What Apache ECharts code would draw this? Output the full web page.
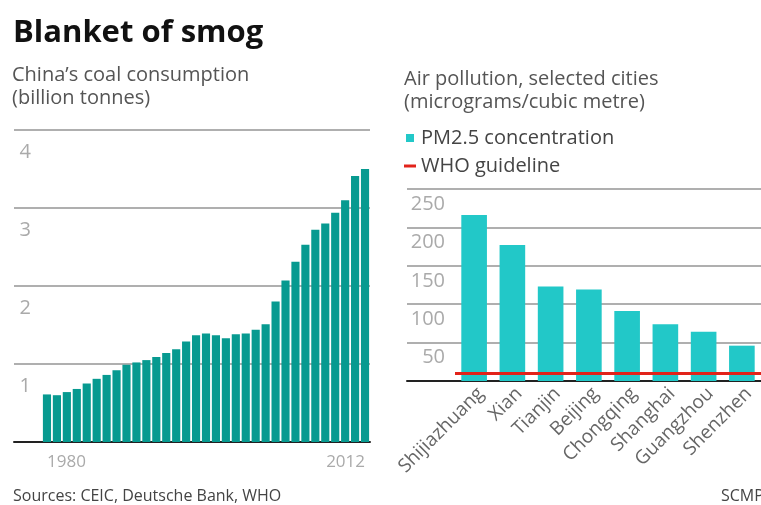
<!DOCTYPE html>
<html>
<head>
<meta charset="utf-8">
<script src="https://cdn.jsdelivr.net/npm/echarts@6/dist/echarts.min.js"></script>
<style>
  html, body { margin: 0; padding: 0; background: #fff; }
  #chart { width: 761px; height: 505px; }
</style>
</head>
<body>
<div id="chart"></div>
<script>
// coal consumption, billion tonnes, 1980-2012
var years = [];
for (var y = 1980; y <= 2012; y++) { years.push(String(y)); }
var coal = [0.61, 0.60, 0.64, 0.68, 0.75, 0.81, 0.86, 0.92, 0.99, 1.02, 1.05,
            1.09, 1.14, 1.19, 1.29, 1.37, 1.39, 1.37, 1.33, 1.38, 1.39, 1.44,
            1.51, 1.80, 2.07, 2.31, 2.53, 2.72, 2.80, 2.94, 3.10, 3.41, 3.50];
var coalTicks = [0, 1, 2, 3, 4];

// PM2.5, micrograms/cubic metre
var cities = ['Shijiazhuang', 'Xian', 'Tianjin', 'Beijing', 'Chongqing', 'Shanghai', 'Guangzhou', 'Shenzhen'];
var pm25 = [216, 177, 123, 119, 91, 74, 64, 46];
var pmTicks = [0, 50, 100, 150, 200, 250];
var whoGuideline = 10;

var FONT = '"Open Sans", "Noto Sans", sans-serif';
var gridLine = { show: true, lineStyle: { color: '#959595', width: 1.5 } };

// only first and last year are labelled, pinned to the ends of the axis
var yearData = years.map(function (v, i) {
    if (i === 0) return { value: v, textStyle: { align: 'left' } };
    if (i === years.length - 1) return { value: v, textStyle: { align: 'right' } };
    return v;
});

var myChart = echarts.init(document.getElementById('chart'));

var option = {
    animation: false,
    textStyle: { fontFamily: FONT },
    title: [
        { text: 'Blanket of smog', left: 13, top: 18, padding: 0,
          textStyle: { fontFamily: FONT, fontSize: 31, fontWeight: 'bold', color: '#111' } },
        { text: 'China\u2019s coal consumption\n(billion tonnes)', left: 12, top: 64, padding: 0,
          textStyle: { fontFamily: FONT, fontSize: 20, lineHeight: 23, fontWeight: 'normal', color: '#555' } },
        { text: 'Air pollution, selected cities\n(micrograms/cubic metre)', left: 404, top: 68, padding: 0,
          textStyle: { fontFamily: FONT, fontSize: 20, lineHeight: 23, fontWeight: 'normal', color: '#555' } },
        { text: 'Sources: CEIC, Deutsche Bank, WHO', left: 13, top: 488, padding: 0,
          textStyle: { fontFamily: FONT, fontSize: 16, fontWeight: 'normal', color: '#444' } },
        { text: 'SCMP', left: 721, top: 488, padding: 0,
          textStyle: { fontFamily: FONT, fontSize: 16, fontWeight: 'normal', color: '#444' } }
    ],
    legend: {
        orient: 'vertical',
        left: 404,
        top: 128,
        padding: 0,
        itemWidth: 12,
        itemHeight: 8,
        itemGap: 8,
        selectedMode: false,
        textStyle: { fontFamily: FONT, fontSize: 20, color: '#444' },
        data: [
            { name: 'PM2.5 concentration', icon: 'path://M0,0H10V10H0Z' },
            { name: 'WHO guideline', icon: 'path://M0,0H12V3H0Z' }
        ]
    },
    grid: [
        { left: 42, right: 391, top: 130, bottom: 63 },
        { left: 14, right: 391, top: 130, bottom: 63 },
        { left: 455, right: -3, top: 189, bottom: 124 },
        { left: 407, right: 0, top: 189, bottom: 124 }
    ],
    xAxis: [
        {
            gridIndex: 0, type: 'category', data: yearData,
            axisLine: { show: false }, axisTick: { show: false },
            axisLabel: {
                interval: function (i) { return i === 0 || i === years.length - 1; },
                fontSize: 17, color: '#aaa', margin: 12
            }
        },
        {
            gridIndex: 1, type: 'value', min: 0, max: 1,
            axisLine: { show: true, lineStyle: { color: '#222', width: 2 } },
            axisTick: { show: false }, axisLabel: { show: false }, splitLine: { show: false }
        },
        {
            gridIndex: 2, type: 'category', data: cities,
            axisLine: { show: false }, axisTick: { show: false },
            axisLabel: { rotate: 45, fontSize: 19, color: '#666', margin: 3,
                         verticalAlign: 'top', interval: 0 }
        },
        {
            gridIndex: 3, type: 'value', min: 0, max: 1,
            axisLine: { show: true, lineStyle: { color: '#222', width: 2 } },
            axisTick: { show: false }, axisLabel: { show: false }, splitLine: { show: false }
        }
    ],
    yAxis: [
        { gridIndex: 0, type: 'value', min: 0, max: 4, show: false },
        {
            gridIndex: 1, type: 'value', min: coalTicks[0], max: coalTicks[coalTicks.length - 1], interval: 1,
            axisLine: { show: false }, axisTick: { show: false },
            splitLine: gridLine,
            axisLabel: {
                inside: true, align: 'right', verticalAlign: 'top', margin: 17,
                padding: [12, 0, 0, 0], fontSize: 20, color: '#aaa',
                formatter: function (v) { return v === 0 ? '' : v; }
            }
        },
        { gridIndex: 2, type: 'value', min: 0, max: 250, show: false },
        {
            gridIndex: 3, type: 'value', min: pmTicks[0], max: pmTicks[pmTicks.length - 1], interval: 50,
            axisLine: { show: false }, axisTick: { show: false },
            splitLine: gridLine,
            axisLabel: {
                inside: true, align: 'right', verticalAlign: 'top', margin: 38,
                padding: [5, 0, 0, 0], fontSize: 20, color: '#aaa',
                formatter: function (v) { return v === 0 ? '' : v; }
            }
        }
    ],
    series: [
        {
            name: 'Coal consumption', type: 'bar',
            xAxisIndex: 0, yAxisIndex: 0,
            data: coal, barCategoryGap: '18%',
            itemStyle: { color: '#079a90' }
        },
        {
            name: 'PM2.5 concentration', type: 'bar',
            xAxisIndex: 2, yAxisIndex: 2,
            data: pm25, barCategoryGap: '33%',
            itemStyle: { color: '#22c8c8' }
        },
        {
            name: 'WHO guideline', type: 'line',
            xAxisIndex: 2, yAxisIndex: 2,
            data: [], itemStyle: { color: '#e2231a' },
            markLine: {
                silent: true, symbol: 'none',
                label: { show: false },
                lineStyle: { color: '#e2231a', width: 3, type: 'solid' },
                data: [{ yAxis: whoGuideline }]
            }
        }
    ]
};

myChart.setOption(option);
window.addEventListener('resize', function () {
    myChart.resize();
});
</script>
</body>
</html>
